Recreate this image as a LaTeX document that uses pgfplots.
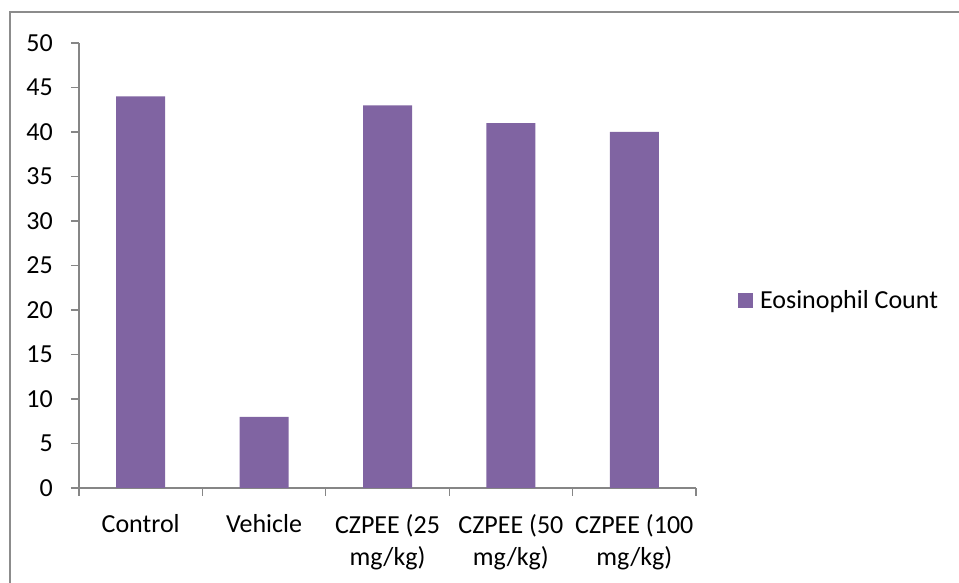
\documentclass[border=0pt]{standalone}
\usepackage{fontspec}
\setmainfont{Carlito}
\usepackage{pgfplots}
\pgfplotsset{compat=1.18}

\definecolor{barpurple}{HTML}{8064A2}
\definecolor{axisgray}{HTML}{868686}
\definecolor{framegray}{HTML}{8C8C8C}

\begin{document}
\begin{tikzpicture}
\useasboundingbox (0pt,0pt) rectangle (959pt,583pt);
% outer chart frame (only left and top edges are in view)
\draw[framegray, line width=1.5pt] (10pt,-5pt) -- (10pt,571pt) -- (965pt,571pt);

\begin{axis}[
    at={(79pt,95pt)}, anchor=south west,
    width=617pt, height=445pt, scale only axis,
    font=\fontsize{26}{32}\selectfont,
    /pgf/number format/assume math mode=true,
    ymin=0, ymax=50, ytick={0,5,...,50},
    xmin=-0.5, xmax=4.5,
    xtick={-0.5,0.5,1.5,2.5,3.5,4.5},
    x tick label as interval,
    xticklabels={Control, Vehicle, {CZPEE (25\\mg/kg)}, {CZPEE (50\\mg/kg)}, {CZPEE (100\\mg/kg)}},
    xticklabel style={align=center, inner sep=0pt, yshift=-18pt},
    yticklabel style={anchor=east, inner sep=0pt, xshift=-18pt},
    axis lines*=left,
    axis line style={axisgray, line width=1.3pt},
    tick style={axisgray, line width=1.3pt},
    tick align=outside, major tick length=8pt,
    ybar, bar width=49pt,
    legend style={at={(1,0.5)}, anchor=west, xshift=42pt, yshift=-35pt,
        draw=none, fill=none, inner sep=0pt,
        font=\fontsize{26}{32}\selectfont,
        nodes={inner sep=0pt, anchor=west}},
    legend image code/.code={\fill[barpurple] (0pt,-7.5pt) rectangle (15pt,7.5pt); \path (22pt,0pt);},
]
\addplot[fill=barpurple, draw=none] coordinates {
    (0,44) (1,8) (2,43) (3,41) (4,40)
};
\addlegendentry{Eosinophil Count}
\end{axis}
\end{tikzpicture}
\end{document}
